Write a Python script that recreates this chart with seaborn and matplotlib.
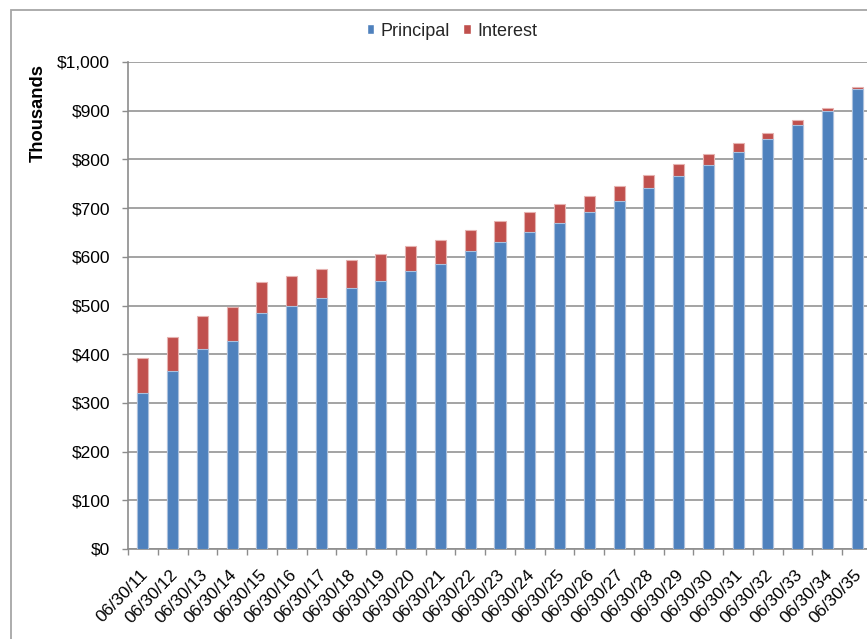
import numpy as np
import pandas as pd
import matplotlib
matplotlib.use("Agg")
import matplotlib.pyplot as plt
from matplotlib.patches import Rectangle
from matplotlib.ticker import FixedLocator, FuncFormatter
from matplotlib.transforms import ScaledTranslation
import seaborn as sns

# Repayment schedule, values in thousands of dollars
dates = ["06/30/11", "06/30/12", "06/30/13", "06/30/14", "06/30/15",
         "06/30/16", "06/30/17", "06/30/18", "06/30/19", "06/30/20",
         "06/30/21", "06/30/22", "06/30/23", "06/30/24", "06/30/25",
         "06/30/26", "06/30/27", "06/30/28", "06/30/29", "06/30/30",
         "06/30/31", "06/30/32", "06/30/33", "06/30/34", "06/30/35"]
principal = [320, 365, 410, 428, 484, 500, 516, 535, 550, 571,
             585, 611, 630, 650, 669, 691, 715, 741, 766, 789,
             815, 841, 871, 900, 945]
interest = [72, 70, 68, 68, 65, 61, 59, 58, 55, 51,
            49, 45, 44, 41, 39, 34, 31, 27, 24, 22,
            19, 14, 9, 6, 3]
y_ticks = [0, 100, 200, 300, 400, 500, 600, 700, 800, 900, 1000]

df = pd.DataFrame({"date": dates, "principal": principal, "interest": interest})
df["total"] = df["principal"] + df["interest"]

blue = "#4F81BD"
red = "#C0504D"
grid_grey = "#a3a3a3"
axis_grey = "#8c8c8c"

sns.set_theme(style="white")
plt.rcParams["font.family"] = ["Liberation Sans", "DejaVu Sans"]

W, H = 867, 639
fig = plt.figure(figsize=(W / 100, H / 100), dpi=100)
ax = fig.add_axes([128 / W, 1 - 549 / H, (872 - 128) / W, (549 - 62) / H])

# Stacked bars: full height in red, principal drawn over it in blue
sns.barplot(data=df, x="date", y="total", color=red, saturation=1,
            width=0.37, edgecolor="#e6b3b1", linewidth=0.8, ax=ax, zorder=3)
sns.barplot(data=df, x="date", y="principal", color=blue, saturation=1,
            width=0.37, edgecolor="#a9c0dd", linewidth=0.8, ax=ax, zorder=4)

ax.set_xlim(-0.5, len(dates) - 0.5)
ax.set_ylim(0, 1000)
ax.set_yticks(y_ticks)
ax.yaxis.set_major_formatter(FuncFormatter(lambda v, p: f"${v:,.0f}"))
ax.grid(axis="y", color=grid_grey, linewidth=1.4, zorder=0)
ax.set_axisbelow(True)

# Category separators on the x axis
ax.xaxis.set_minor_locator(FixedLocator(np.arange(-0.5, len(dates), 1)))
ax.tick_params(axis="x", which="minor", bottom=True, length=4, width=1,
               color=axis_grey)
ax.tick_params(axis="x", which="major", bottom=False, length=0, pad=13,
               labelsize=12.5, labelcolor="black")
ax.tick_params(axis="y", left=True, length=4.5, width=1, color=axis_grey,
               pad=8.5, labelsize=12.5, labelcolor="black")
shift = ScaledTranslation(-3 / 100, 0, fig.dpi_scale_trans)
for lab in ax.get_xticklabels():
    lab.set_rotation(46)
    lab.set_ha("right")
    lab.set_va("top")
    lab.set_rotation_mode("anchor")
    lab.set_transform(lab.get_transform() + shift)

for side in ["top", "right"]:
    ax.spines[side].set_visible(False)
for side in ["left", "bottom"]:
    ax.spines[side].set_color(axis_grey)
    ax.spines[side].set_linewidth(1.2)

ax.set_xlabel("")
ax.set_ylabel("Thousands", fontsize=13.2, fontweight="bold", color="black")
ax.yaxis.set_label_coords((47 - 128) / (872 - 128), 1 - (113 - 62) / (549 - 62))

handles = [Rectangle((0, 0), 1, 1, facecolor=blue),
           Rectangle((0, 0), 1, 1, facecolor=red)]
fig.legend(handles, ["Principal", "Interest"], loc="center",
           bbox_to_anchor=(452 / W, 1 - 31 / H), ncol=2, frameon=False,
           fontsize=13, handlelength=0.42, handleheight=0.42,
           handletextpad=0.35, columnspacing=0.75)

# Chart frame
fig.patches.append(Rectangle((11 / W, -0.1), 1.2, 1.1 - 10 / H,
                             transform=fig.transFigure, fill=False,
                             edgecolor="#a6a6a6", linewidth=1.3))

fig.savefig("out.png", dpi=100)
